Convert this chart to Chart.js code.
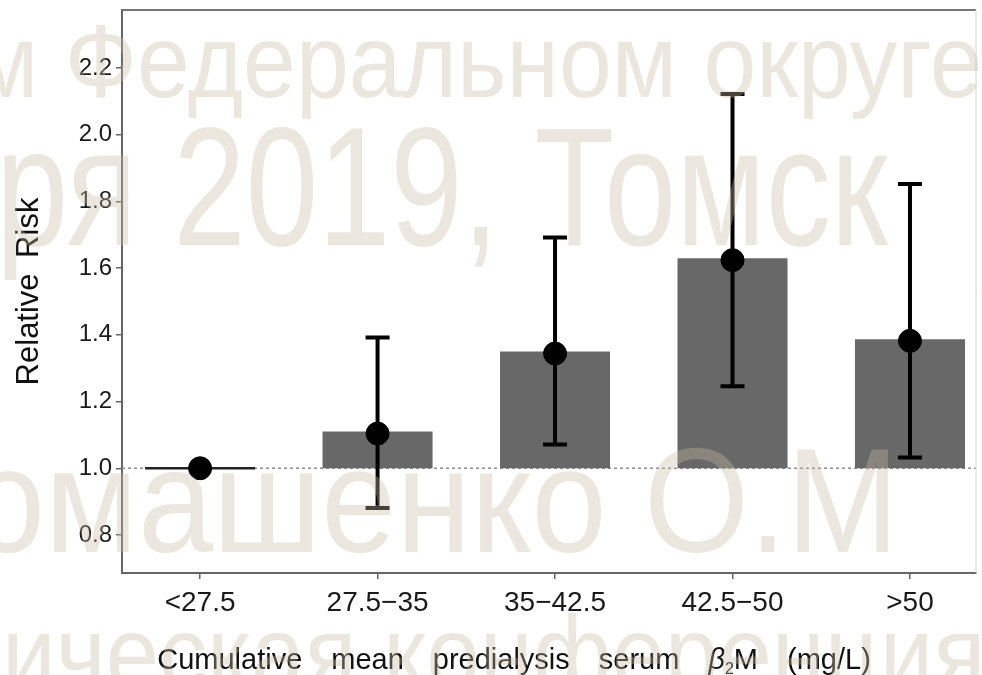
<!DOCTYPE html>
<html>
<head>
<meta charset="utf-8">
<script src="https://cdn.jsdelivr.net/npm/chart.js@4.4.0/dist/chart.umd.min.js"></script>
<style>
  html, body { margin: 0; padding: 0; background: #fff; }
  #wrap { width: 982px; height: 675px; }
</style>
</head>
<body>
<div id="wrap"><canvas id="rrChart"></canvas></div>
<script>
const categories = ['<27.5', '27.5\u221235', '35\u221242.5', '42.5\u221250', '>50'];
const barValues = [1.0, 1.11, 1.35, 1.63, 1.387];
const pointValues = [1.0, 1.104, 1.344, 1.624, 1.382];
const ciLower = [null, 0.881, 1.071, 1.246, 1.032];
const ciUpper = [null, 1.392, 1.692, 2.122, 1.852];
const yTicks = [0.8, 1.0, 1.2, 1.4, 1.6, 1.8, 2.0, 2.2];
const baseline = 1.0;

const FONT = '"Liberation Sans", Arial, Helvetica, sans-serif';

// background watermark of the scanned slide
const watermark = [
    { text: 'м Федеральном округе', size: 95, x: -27, y: 97, sy: 1.1 },
    { text: 'ря 2019, Томск', size: 130, x: -4, y: 245, sy: 1.3 },
    { text: 'омашенко О.М', size: 135, x: -30, y: 552, sy: 1.1 },
    { text: 'ическая конференция', size: 96, x: 2, y: 690, sy: 1.1 }
];

const decorPlugin = {
    id: 'rrDecor',
    beforeDatasetsDraw(chart) {
        const { ctx, chartArea: a, scales: { y } } = chart;
        const yb = y.getPixelForValue(baseline);
        ctx.save();
        ctx.strokeStyle = '#8c8c8c';
        ctx.lineWidth = 1.5;
        ctx.setLineDash([3, 3]);
        ctx.beginPath();
        ctx.moveTo(a.left, yb);
        ctx.lineTo(a.right, yb);
        ctx.stroke();
        ctx.restore();
    },
    afterDatasetDraw(chart, args) {
        if (args.index !== 0) return;
        const { ctx, scales: { y } } = chart;
        const bars = chart.getDatasetMeta(0).data;
        ctx.save();
        bars.forEach((bar, i) => {
            if (barValues[i] === baseline) {
                // reference group: zero-height bar drawn as a flat line
                const yb = y.getPixelForValue(baseline);
                ctx.strokeStyle = '#222';
                ctx.lineWidth = 2.5;
                ctx.beginPath();
                ctx.moveTo(bar.x - bar.width / 2, yb);
                ctx.lineTo(bar.x + bar.width / 2, yb);
                ctx.stroke();
            }
            if (ciLower[i] == null) return;
            const yl = y.getPixelForValue(ciLower[i]);
            const yu = y.getPixelForValue(ciUpper[i]);
            ctx.strokeStyle = '#000';
            ctx.lineWidth = 4;
            ctx.beginPath();
            ctx.moveTo(bar.x, yl);
            ctx.lineTo(bar.x, yu);
            ctx.moveTo(bar.x - 12, yl);
            ctx.lineTo(bar.x + 12, yl);
            ctx.moveTo(bar.x - 12, yu);
            ctx.lineTo(bar.x + 12, yu);
            ctx.stroke();
        });
        ctx.restore();
    },
    afterDraw(chart) {
        const { ctx, chartArea: a } = chart;
        ctx.save();
        // frame: top and right sides
        ctx.strokeStyle = '#777';
        ctx.lineWidth = 2;
        ctx.beginPath();
        ctx.moveTo(a.left, a.top);
        ctx.lineTo(a.right, a.top);
        ctx.stroke();
        ctx.strokeStyle = '#d4d4d4';
        ctx.lineWidth = 1;
        ctx.beginPath();
        ctx.moveTo(a.right, a.top);
        ctx.lineTo(a.right, a.bottom);
        ctx.stroke();

        // x axis title with italic beta and subscript
        const parts = [
            { t: 'Cumulative\u2003mean\u2003predialysis\u2003serum\u2003', f: '29px ' + FONT, dy: 0 },
            { t: '\u03b2', f: 'italic 29px ' + FONT, dy: 0 },
            { t: '2', f: '16px ' + FONT, dy: 5 },
            { t: 'M\u2003(mg/L)', f: '29px ' + FONT, dy: 0 }
        ];
        let total = 0;
        parts.forEach(p => { ctx.font = p.f; p.w = ctx.measureText(p.t).width; total += p.w; });
        let x = 514 - total / 2;
        ctx.fillStyle = '#111';
        ctx.textBaseline = 'alphabetic';
        parts.forEach(p => {
            ctx.font = p.f;
            ctx.fillText(p.t, x, 669 + p.dy);
            x += p.w;
        });

        // watermark overlay
        ctx.fillStyle = 'rgba(200,188,163,0.36)';
        watermark.forEach(w => {
            ctx.save();
            ctx.translate(w.x, w.y);
            ctx.scale(1, w.sy);
            ctx.font = w.size + 'px ' + FONT;
            ctx.fillText(w.text, 0, 0);
            ctx.restore();
        });
        ctx.restore();
    }
};

new Chart(document.getElementById('rrChart'), {
    type: 'bar',
    data: {
        datasets: [
            {
                type: 'bar',
                data: barValues.map((v, i) => ({ x: i, y: [baseline, v] })),
                backgroundColor: '#686868',
                borderWidth: 0,
                barPercentage: 0.62,
                categoryPercentage: 1,
                order: 2
            },
            {
                type: 'scatter',
                data: pointValues.map((v, i) => ({ x: i, y: v })),
                backgroundColor: '#000',
                borderColor: '#000',
                pointRadius: 11.5,
                order: 1
            }
        ]
    },
    options: {
        responsive: true,
        maintainAspectRatio: false,
        animation: false,
        layout: { autoPadding: false, padding: { top: 10, right: 6, left: 0, bottom: 0 } },
        plugins: { legend: { display: false }, tooltip: { enabled: false } },
        scales: {
            x: {
                type: 'linear',
                min: -0.44,
                max: 4.372,
                offset: false,
                afterBuildTicks: s => { s.ticks = categories.map((c, i) => ({ value: i })); },
                afterFit: s => {
                    s.height = 102;
                    s.paddingLeft = 0;
                    s.paddingRight = 0;
                },
                ticks: {
                    callback: v => categories[v],
                    font: { size: 28, family: FONT },
                    color: '#1a1a1a',
                    padding: 7,
                    autoSkip: false,
                    maxRotation: 0
                },
                grid: { display: true, offset: false, drawOnChartArea: false, tickLength: 6, color: '#666', lineWidth: 1.5 },
                border: { display: true, color: '#666', width: 2 }
            },
            y: {
                min: 0.686,
                max: 2.374,
                afterBuildTicks: s => { s.ticks = yTicks.map(v => ({ value: v })); },
                afterFit: s => {
                    s.width = 122;
                    s.paddingTop = 0;
                    s.paddingBottom = 0;
                },
                ticks: {
                    callback: v => v.toFixed(1),
                    font: { size: 24, family: FONT },
                    color: '#1a1a1a',
                    padding: 4
                },
                grid: { display: true, drawOnChartArea: false, tickLength: 6, color: '#666', lineWidth: 1.5 },
                border: { display: true, color: '#666', width: 2 },
                title: {
                    display: true,
                    text: 'Relative\u2002Risk',
                    font: { size: 31, family: FONT },
                    color: '#111',
                    padding: { top: 11, bottom: 0 }
                }
            }
        }
    },
    plugins: [decorPlugin]
});
</script>
</body>
</html>
